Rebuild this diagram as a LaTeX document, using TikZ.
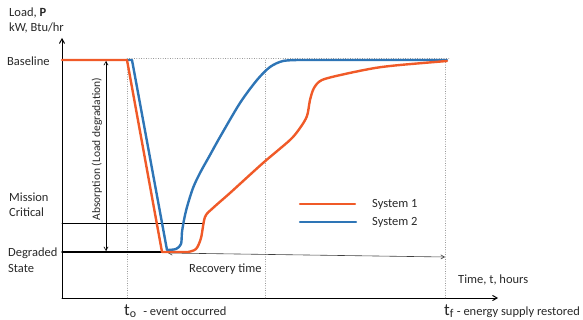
\documentclass[tikz,border=0pt]{standalone}
\usepackage{fontspec}
\setmainfont{Carlito}
\usetikzlibrary{arrows}
\definecolor{sysone}{RGB}{240,90,40}
\definecolor{systwo}{RGB}{46,117,182}
\definecolor{txt}{RGB}{40,40,40}

\begin{document}
\begin{tikzpicture}[line cap=round,line join=round,>=angle 60,x=1pt,y=-1pt,
  lbl/.style={inner sep=0pt,anchor=west,text=txt,font=\fontsize{12.5}{14}\selectfont},
  guide/.style={dotted,color=gray},
  curve/.style={line width=2.4pt}]

\useasboundingbox (0,0) rectangle (583,320);

%akselit
\coordinate (origo) at (62,298);
\coordinate (ytop) at (62,38);
\coordinate (xend) at (498,298);
\draw[->,line width=1pt] (origo) -- (ytop);
\draw[->,line width=1pt] (origo) -- (xend);

%apuviivat
\foreach \x in {127,265,445}
{\draw[guide] (\x,60)--(\x,298);}
\draw[guide] (127,58)--(450,58);

%tasot
\draw[line width=0.8pt] (62,223) -- (204,223);
\draw[line width=1.4pt] (62,252) -- (170,252);

%akselien tekstit
\node[lbl] (load) at (9,13) {Load, \textbf{P}};
\node[lbl] (unit) at (9,28) {kW, Btu/hr};
\node[lbl] (base) at (7,61) {Baseline};
\node[lbl] (mis) at (9,197) {Mission};
\node[lbl] (crit) at (9,212) {Critical};
\node[lbl] (deg) at (8,253) {Degraded};
\node[lbl] (state) at (8,268) {State};
\node[lbl] (time) at (458,280) {Time, t, hours};
\node[lbl,anchor=base west] (tzero) at (124,315)
  {\fontsize{17}{19}\selectfont t\textsubscript{o}\ \,\fontsize{12.5}{14}\selectfont - event occurred};
\node[lbl,anchor=base west] (tf) at (444,315)
  {\fontsize{17}{19}\selectfont t\textsubscript{f}\,\fontsize{12.5}{14}\selectfont - energy supply restored};

%absorptio
\coordinate (abstop) at (106,61);
\coordinate (absbot) at (106,251);
\draw[<->,line width=0.6pt] (abstop) -- (absbot);
\node[lbl,anchor=center,rotate=90,font=\fontsize{11.5}{13}\selectfont] (abs) at (97,149) {Absorption (Load degradation)};

%palautumisaika
\coordinate (recstart) at (168,253);
\coordinate (recend) at (445,257);
\draw[<->,line width=0.6pt,color=darkgray] (recstart) -- (recend);
\node[lbl] (rec) at (189,269) {Recovery time};

% Varsinainen kuva

% System 2
\draw[curve,color=systwo] (127,60) -- (132,60) -- (167,250)
  plot[smooth,tension=0.5] coordinates {(167,250) (176,249) (181,244) (182,232) (184,220) (187,207) (193,188) (200,173) (210,155) (220,137) (240,103) (257,80) (270,67) (283,61) (300,60)}
  -- (447,60);

% System 1
\draw[curve,color=sysone] (62,60) -- (127,60) -- (162,252) -- (188,252)
  plot[smooth,tension=0.5] coordinates {(188,252) (196,249) (201,238) (205,217) (213,208) (230,193) (263,163) (290,140) (300,128) (307,116) (310,100) (314,88) (322,80) (345,74) (375,68) (400,65) (447,61)};

%selite
\draw[curve,color=sysone] (300,204) -- (355,204);
\node[lbl] (s1) at (372,204) {System 1};
\draw[curve,color=systwo] (300,222) -- (356,222);
\node[lbl] (s2) at (372,222) {System 2};

\end{tikzpicture}
\end{document}
